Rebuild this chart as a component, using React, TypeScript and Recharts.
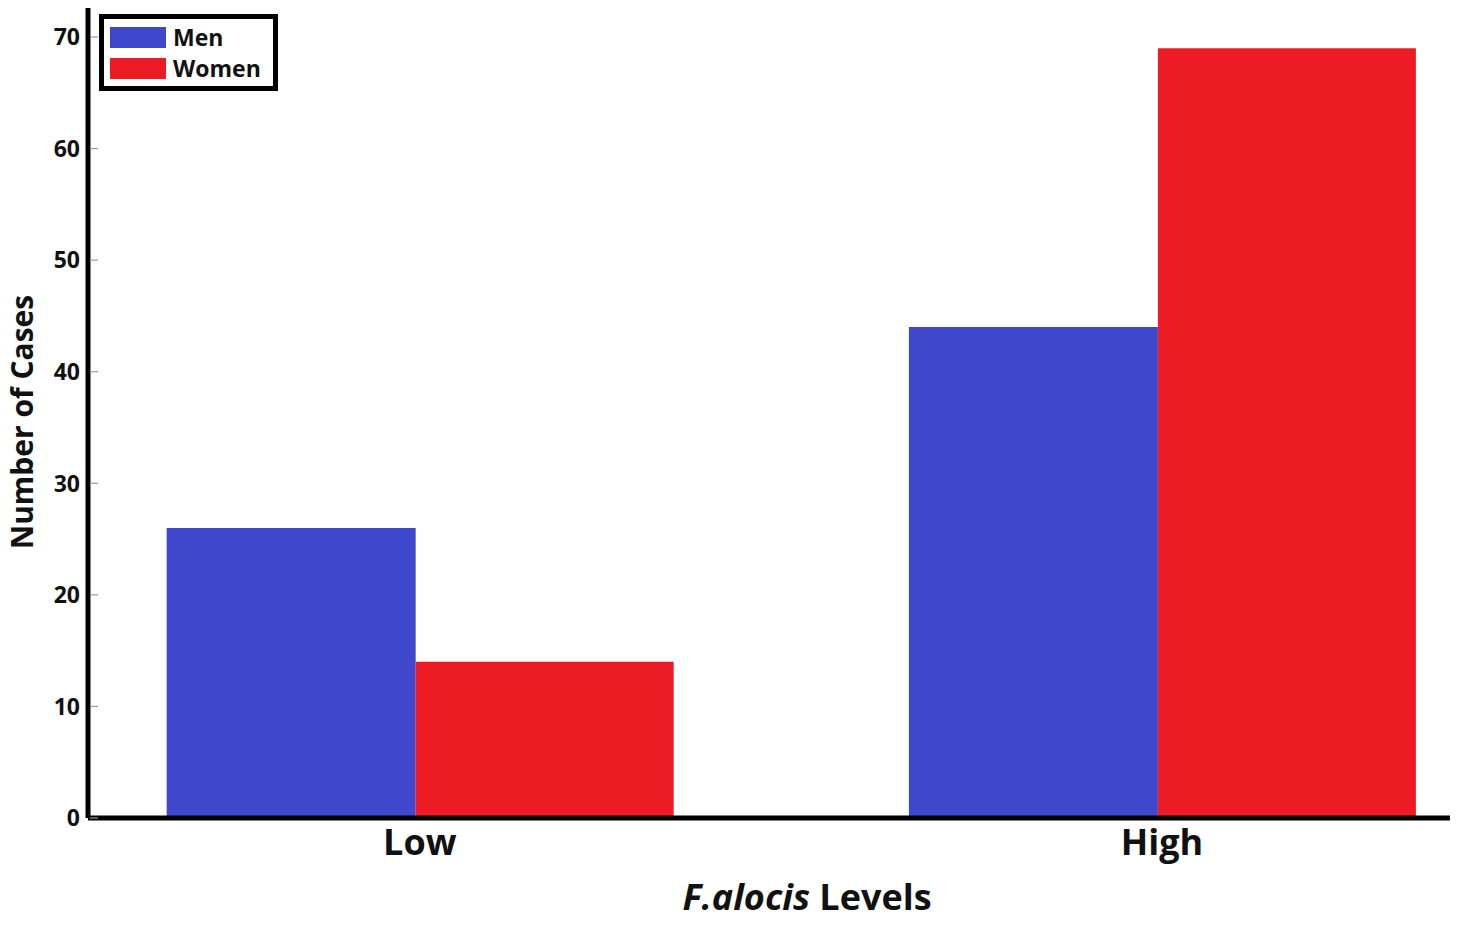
import React from "react";
import { BarChart, Bar, XAxis, YAxis, Legend } from "recharts";

const levels = ["Low", "High"];
const men = [26, 44];
const women = [14, 69];
const yTicks = [0, 10, 20, 30, 40, 50, 60, 70];

const BLUE = "#3F48CC";
const RED = "#ED1C24";
const FONT = "'Open Sans', sans-serif";

const data = levels.map((level, i) => ({
  pos: i,
  level,
  men: men[i],
  women: women[i],
}));

function YTick(props: any) {
  const { x, y, payload } = props;
  return (
    <g>
      <line x1={x + 2} y1={y} x2={x + 10} y2={y} stroke="#999" strokeWidth={1.2} />
      <text
        x={x - 8}
        y={y}
        dy="0.36em"
        textAnchor="end"
        fontFamily={FONT}
        fontWeight={700}
        fontSize={23}
        fill="#111"
      >
        {payload.value}
      </text>
    </g>
  );
}

function XTick(props: any) {
  const { x, y, payload } = props;
  return (
    <text
      x={x}
      y={y + 37}
      textAnchor="middle"
      fontFamily={FONT}
      fontWeight={700}
      fontSize={36}
      fill="#111"
    >
      {levels[payload.value]}
    </text>
  );
}

function LegendBox() {
  const item = (color: string, name: string) => (
    <div style={{ display: "flex", alignItems: "center", height: 31 }}>
      <div style={{ width: 56, height: 21, background: color, marginRight: 7 }} />
      <span style={{ fontFamily: FONT, fontWeight: 700, fontSize: 23, color: "#111" }}>
        {name}
      </span>
    </div>
  );
  return (
    <div
      style={{
        border: "5px solid #000",
        width: 163,
        height: 67,
        paddingLeft: 6,
        display: "flex",
        flexDirection: "column",
        justifyContent: "center",
        background: "#fff",
      }}
    >
      {item(BLUE, "Men")}
      {item(RED, "Women")}
    </div>
  );
}

export default function App() {
  return (
    <div style={{ position: "absolute", left: 0, top: 0, background: "#fff" }}>
      <BarChart
        width={1479}
        height={931}
        data={data}
        margin={{ top: 8, right: 29, bottom: 53, left: 0 }}
        barGap={0}
      >
        <XAxis
          dataKey="pos"
          type="number"
          domain={[-0.447, 1.388]}
          ticks={[0, 1]}
          allowDataOverflow
          height={60}
          tickSize={0}
          tickMargin={0}
          tick={<XTick />}
          axisLine={{ stroke: "#000", strokeWidth: 5 }}
          label={{
            content: (p: any) => {
              const vb = p.viewBox;
              return (
                <text
                  x={vb.x + vb.width / 2 + 38}
                  y={910}
                  textAnchor="middle"
                  fontFamily={FONT}
                  fontWeight={700}
                  fontSize={36}
                  fill="#111"
                >
                  <tspan fontStyle="italic">F.alocis</tspan>
                  <tspan> Levels</tspan>
                </text>
              );
            },
          }}
        />
        <YAxis
          type="number"
          domain={[0, 72.6]}
          ticks={yTicks}
          width={88}
          tickSize={0}
          tickMargin={0}
          tick={<YTick />}
          axisLine={{ stroke: "#000", strokeWidth: 5 }}
          label={{
            content: () => (
              <text
                x={33}
                y={422}
                transform="rotate(-90 33 422)"
                textAnchor="middle"
                fontFamily={FONT}
                fontWeight={700}
                fontSize={30}
                fill="#111"
              >
                Number of Cases
              </text>
            ),
          }}
        />
        <Legend
          layout="horizontal"
          verticalAlign="middle"
          align="center"
          wrapperStyle={{ position: "absolute", top: 14, left: 99, width: "auto", height: "auto" }}
          content={() => <LegendBox />}
        />
        <Bar dataKey="men" name="Men" fill={BLUE} barSize={249} isAnimationActive={false} />
        <Bar dataKey="women" name="Women" fill={RED} barSize={258} isAnimationActive={false} />
      </BarChart>
    </div>
  );
}
